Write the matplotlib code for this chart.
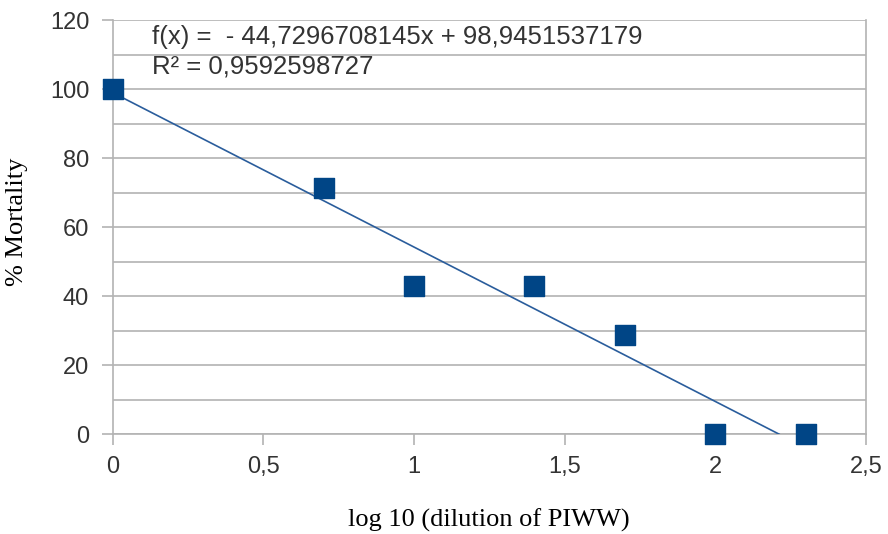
import numpy as np
import matplotlib.pyplot as plt
from matplotlib.ticker import MultipleLocator, FuncFormatter

# Data
logDilution = [0, 0.7, 1, 1.4, 1.7, 2, 2.3]
mortality = [100, 71.4, 42.9, 42.9, 28.6, 0, 0]

slope = -44.7296708145
intercept = 98.9451537179
r2 = 0.9592598727

fig = plt.figure(figsize=(8.88, 5.34), dpi=100)
ax = fig.add_axes([0.127, 0.187, 0.848, 0.7755])

# Trendline from x=0 to where it hits y=0
xEnd = -intercept / slope
xTrend = np.array([0, xEnd])
ax.plot(xTrend, slope * xTrend + intercept, color="#2a5d9c", lw=1.2, zorder=3)

ax.scatter(logDilution, mortality, marker="s", s=210, color="#004586", zorder=4, clip_on=False)

ax.set_xlim(0, 2.5)
ax.set_ylim(0, 120)
ax.xaxis.set_major_locator(MultipleLocator(0.5))
ax.yaxis.set_major_locator(MultipleLocator(20))
ax.yaxis.set_minor_locator(MultipleLocator(10))

komma = FuncFormatter(lambda v, p: f"{v:g}".replace(".", ","))
ax.xaxis.set_major_formatter(komma)
ax.yaxis.set_major_formatter(komma)

ax.grid(axis="y", which="both", color="#b3b3b3", lw=1.2)
ax.set_axisbelow(True)

ax.spines["top"].set_visible(False)
for side in ["left", "right", "bottom"]:
    ax.spines[side].set_color("#b3b3b3")
    ax.spines[side].set_linewidth(1.2)

ax.tick_params(which="major", length=8, color="#b3b3b3", width=1.2, labelsize=17, labelcolor="#333333")
ax.tick_params(axis="x", pad=8)
ax.tick_params(axis="y", pad=9)
ax.tick_params(which="minor", length=0)
for lab in ax.get_xticklabels() + ax.get_yticklabels():
    lab.set_family("Liberation Sans")

ax.text(0.13, 115.2, "f(x) =  - 44,7296708145x + 98,9451537179", fontsize=18.5,
        family="Liberation Sans", color="#333333", va="center")
ax.text(0.13, 106.4, "R² = 0,9592598727", fontsize=18.5,
        family="Liberation Sans", color="#333333", va="center")

ax.set_xlabel("log 10 (dilution of PIWW)", fontsize=19, family="Liberation Serif", labelpad=22)
# y label placed by hand so it does not get pushed off the left edge
fig.text(17 / 888, 0.584, "% Mortality", fontsize=19, family="Liberation Serif",
         rotation=90, ha="center", va="center")

fig.savefig("out.png", dpi=100)
